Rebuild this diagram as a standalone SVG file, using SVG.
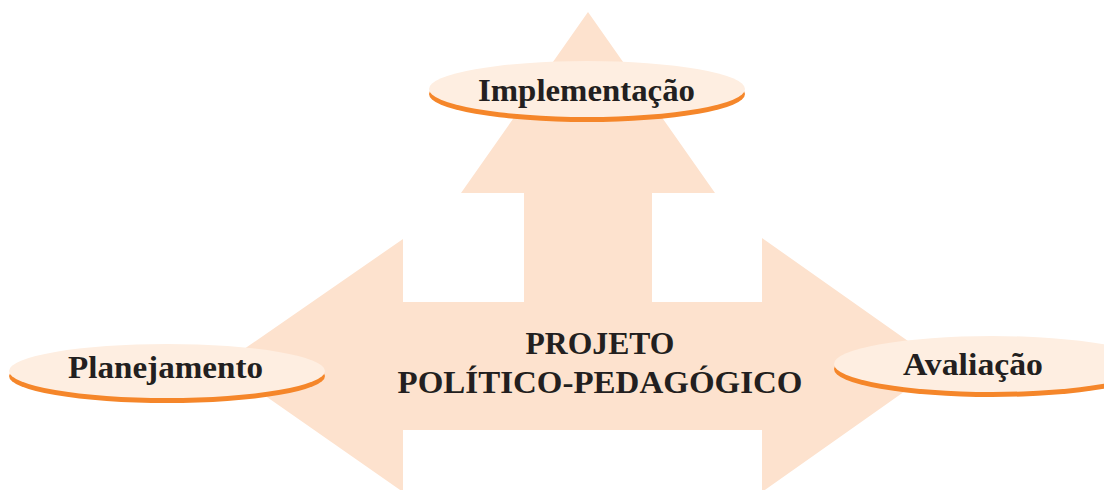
<svg xmlns="http://www.w3.org/2000/svg" width="1104" height="490" viewBox="0 0 1104 490">
<style>
.arrow{fill:#FDE2CE;}
.shadow{fill:#F5862A;}
.pill{fill:#FEEEE1;}
.lbl{font-family:"Liberation Serif","DejaVu Serif",serif;font-weight:bold;fill:#231F20;font-size:31px;}
.big{font-size:32px;}
</style>
<rect width="1104" height="490" fill="#FFFFFF"/>
<g id="connectors">
<polygon class="arrow" points="588,12 715,193 652,193 652,302 762,302 762,238 942,365 762,492 762,430 403,430 403,492 221,365 403,239 403,302 524,302 524,193 461,193"/>
</g>
<g id="center">
<text class="lbl big" x="600" y="354" text-anchor="middle" textLength="149" lengthAdjust="spacingAndGlyphs">PROJETO</text>
<text class="lbl big" x="600" y="393" text-anchor="middle" textLength="405" lengthAdjust="spacingAndGlyphs">POLÍTICO-PEDAGÓGICO</text>
</g>
<g id="implementacao">
<ellipse class="shadow" cx="587" cy="94" rx="158" ry="28"/>
<ellipse class="pill" cx="587" cy="89" rx="158" ry="28"/>
<text class="lbl" x="586.5" y="101" text-anchor="middle" textLength="217" lengthAdjust="spacingAndGlyphs">Implementação</text>
</g>
<g id="planejamento">
<ellipse class="shadow" cx="167" cy="376" rx="158" ry="27"/>
<ellipse class="pill" cx="167" cy="371" rx="158" ry="27"/>
<text class="lbl" x="165.5" y="378" text-anchor="middle" textLength="195" lengthAdjust="spacingAndGlyphs">Planejamento</text>
</g>
<g id="avaliacao">
<ellipse class="shadow" cx="992" cy="369" rx="158" ry="28"/>
<ellipse class="pill" cx="992" cy="364" rx="158" ry="28"/>
<text class="lbl" x="973" y="375" text-anchor="middle" textLength="140" lengthAdjust="spacingAndGlyphs">Avaliação</text>
</g>
</svg>
